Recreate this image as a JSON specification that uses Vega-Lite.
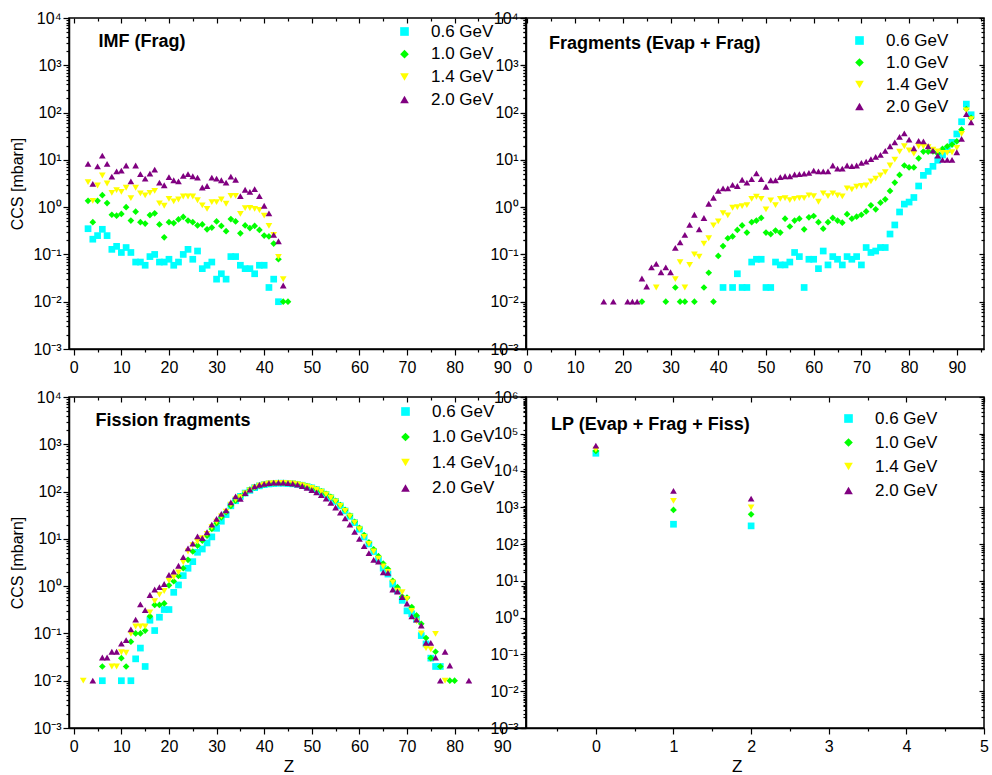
{
"$schema": "https://vega.github.io/schema/vega-lite/v6.json",
"background": "white",
"padding": {"left": 9, "top": 9, "right": 0, "bottom": 0},
"datasets": {
"imf": [
{"E":"0.6 GeV","Z":3,"CCS":0.35},{"E":"0.6 GeV","Z":4,"CCS":0.21},{"E":"0.6 GeV","Z":5,"CCS":0.25},{"E":"0.6 GeV","Z":6,"CCS":0.34},{"E":"0.6 GeV","Z":7,"CCS":0.25},{"E":"0.6 GeV","Z":8,"CCS":0.128},{"E":"0.6 GeV","Z":9,"CCS":0.148},{"E":"0.6 GeV","Z":10,"CCS":0.11},{"E":"0.6 GeV","Z":11,"CCS":0.14},{"E":"0.6 GeV","Z":12,"CCS":0.11},{"E":"0.6 GeV","Z":13,"CCS":0.069},{"E":"0.6 GeV","Z":14,"CCS":0.069},{"E":"0.6 GeV","Z":15,"CCS":0.059},{"E":"0.6 GeV","Z":16,"CCS":0.09},{"E":"0.6 GeV","Z":17,"CCS":0.1},{"E":"0.6 GeV","Z":18,"CCS":0.069},{"E":"0.6 GeV","Z":19,"CCS":0.069},{"E":"0.6 GeV","Z":20,"CCS":0.079},{"E":"0.6 GeV","Z":21,"CCS":0.059},{"E":"0.6 GeV","Z":22,"CCS":0.069},{"E":"0.6 GeV","Z":23,"CCS":0.1},{"E":"0.6 GeV","Z":24,"CCS":0.128},{"E":"0.6 GeV","Z":25,"CCS":0.079},{"E":"0.6 GeV","Z":26,"CCS":0.118},{"E":"0.6 GeV","Z":27,"CCS":0.05},{"E":"0.6 GeV","Z":28,"CCS":0.059},{"E":"0.6 GeV","Z":29,"CCS":0.069},{"E":"0.6 GeV","Z":30,"CCS":0.03},{"E":"0.6 GeV","Z":31,"CCS":0.039},{"E":"0.6 GeV","Z":32,"CCS":0.03},{"E":"0.6 GeV","Z":33,"CCS":0.09},{"E":"0.6 GeV","Z":34,"CCS":0.09},{"E":"0.6 GeV","Z":35,"CCS":0.059},{"E":"0.6 GeV","Z":36,"CCS":0.05},{"E":"0.6 GeV","Z":37,"CCS":0.05},{"E":"0.6 GeV","Z":38,"CCS":0.039},{"E":"0.6 GeV","Z":39,"CCS":0.059},{"E":"0.6 GeV","Z":40,"CCS":0.059},{"E":"0.6 GeV","Z":41,"CCS":0.02},{"E":"0.6 GeV","Z":42,"CCS":0.03},{"E":"0.6 GeV","Z":43,"CCS":0.01},
{"E":"1.0 GeV","Z":3,"CCS":1.36},{"E":"1.0 GeV","Z":4,"CCS":0.48},{"E":"1.0 GeV","Z":5,"CCS":1.36},{"E":"1.0 GeV","Z":6,"CCS":1.79},{"E":"1.0 GeV","Z":7,"CCS":1.22},{"E":"1.0 GeV","Z":8,"CCS":0.69},{"E":"1.0 GeV","Z":9,"CCS":0.66},{"E":"1.0 GeV","Z":10,"CCS":0.72},{"E":"1.0 GeV","Z":11,"CCS":1.0},{"E":"1.0 GeV","Z":12,"CCS":0.52},{"E":"1.0 GeV","Z":13,"CCS":0.8},{"E":"1.0 GeV","Z":14,"CCS":0.48},{"E":"1.0 GeV","Z":15,"CCS":0.45},{"E":"1.0 GeV","Z":16,"CCS":0.68},{"E":"1.0 GeV","Z":17,"CCS":0.74},{"E":"1.0 GeV","Z":18,"CCS":0.43},{"E":"1.0 GeV","Z":19,"CCS":0.23},{"E":"1.0 GeV","Z":20,"CCS":0.48},{"E":"1.0 GeV","Z":21,"CCS":0.46},{"E":"1.0 GeV","Z":22,"CCS":0.55},{"E":"1.0 GeV","Z":23,"CCS":0.62},{"E":"1.0 GeV","Z":24,"CCS":0.52},{"E":"1.0 GeV","Z":25,"CCS":0.48},{"E":"1.0 GeV","Z":26,"CCS":0.41},{"E":"1.0 GeV","Z":27,"CCS":0.43},{"E":"1.0 GeV","Z":28,"CCS":0.34},{"E":"1.0 GeV","Z":29,"CCS":0.37},{"E":"1.0 GeV","Z":30,"CCS":0.5},{"E":"1.0 GeV","Z":31,"CCS":0.4},{"E":"1.0 GeV","Z":32,"CCS":0.31},{"E":"1.0 GeV","Z":33,"CCS":0.56},{"E":"1.0 GeV","Z":34,"CCS":0.5},{"E":"1.0 GeV","Z":35,"CCS":0.28},{"E":"1.0 GeV","Z":36,"CCS":0.41},{"E":"1.0 GeV","Z":37,"CCS":0.36},{"E":"1.0 GeV","Z":38,"CCS":0.4},{"E":"1.0 GeV","Z":39,"CCS":0.33},{"E":"1.0 GeV","Z":40,"CCS":0.25},{"E":"1.0 GeV","Z":41,"CCS":0.24},{"E":"1.0 GeV","Z":42,"CCS":0.17},{"E":"1.0 GeV","Z":43,"CCS":0.079},{"E":"1.0 GeV","Z":44,"CCS":0.01},{"E":"1.0 GeV","Z":45,"CCS":0.01},
{"E":"1.4 GeV","Z":3,"CCS":3.37},{"E":"1.4 GeV","Z":4,"CCS":1.36},{"E":"1.4 GeV","Z":5,"CCS":2.87},{"E":"1.4 GeV","Z":6,"CCS":4.67},{"E":"1.4 GeV","Z":7,"CCS":3.16},{"E":"1.4 GeV","Z":8,"CCS":2.0},{"E":"1.4 GeV","Z":9,"CCS":2.28},{"E":"1.4 GeV","Z":10,"CCS":2.1},{"E":"1.4 GeV","Z":11,"CCS":2.57},{"E":"1.4 GeV","Z":12,"CCS":1.55},{"E":"1.4 GeV","Z":13,"CCS":2.57},{"E":"1.4 GeV","Z":14,"CCS":1.95},{"E":"1.4 GeV","Z":15,"CCS":1.77},{"E":"1.4 GeV","Z":16,"CCS":2.0},{"E":"1.4 GeV","Z":17,"CCS":2.2},{"E":"1.4 GeV","Z":18,"CCS":1.2},{"E":"1.4 GeV","Z":19,"CCS":1.07},{"E":"1.4 GeV","Z":20,"CCS":1.5},{"E":"1.4 GeV","Z":21,"CCS":1.32},{"E":"1.4 GeV","Z":22,"CCS":1.45},{"E":"1.4 GeV","Z":23,"CCS":1.68},{"E":"1.4 GeV","Z":24,"CCS":1.68},{"E":"1.4 GeV","Z":25,"CCS":1.68},{"E":"1.4 GeV","Z":26,"CCS":1.4},{"E":"1.4 GeV","Z":27,"CCS":1.09},{"E":"1.4 GeV","Z":28,"CCS":0.92},{"E":"1.4 GeV","Z":29,"CCS":1.28},{"E":"1.4 GeV","Z":30,"CCS":1.28},{"E":"1.4 GeV","Z":31,"CCS":1.45},{"E":"1.4 GeV","Z":32,"CCS":1.18},{"E":"1.4 GeV","Z":33,"CCS":1.73},{"E":"1.4 GeV","Z":34,"CCS":1.73},{"E":"1.4 GeV","Z":35,"CCS":0.72},{"E":"1.4 GeV","Z":36,"CCS":0.95},{"E":"1.4 GeV","Z":37,"CCS":0.96},{"E":"1.4 GeV","Z":38,"CCS":0.92},{"E":"1.4 GeV","Z":39,"CCS":0.87},{"E":"1.4 GeV","Z":40,"CCS":0.66},{"E":"1.4 GeV","Z":41,"CCS":0.4},{"E":"1.4 GeV","Z":42,"CCS":0.26},{"E":"1.4 GeV","Z":43,"CCS":0.089},{"E":"1.4 GeV","Z":44,"CCS":0.03},
{"E":"2.0 GeV","Z":3,"CCS":8.2},{"E":"2.0 GeV","Z":4,"CCS":3.1},{"E":"2.0 GeV","Z":5,"CCS":7.3},{"E":"2.0 GeV","Z":6,"CCS":12.3},{"E":"2.0 GeV","Z":7,"CCS":8.2},{"E":"2.0 GeV","Z":8,"CCS":4.4},{"E":"2.0 GeV","Z":9,"CCS":5.7},{"E":"2.0 GeV","Z":10,"CCS":5.9},{"E":"2.0 GeV","Z":11,"CCS":7.6},{"E":"2.0 GeV","Z":12,"CCS":3.5},{"E":"2.0 GeV","Z":13,"CCS":7.6},{"E":"2.0 GeV","Z":14,"CCS":5.0},{"E":"2.0 GeV","Z":15,"CCS":4.0},{"E":"2.0 GeV","Z":16,"CCS":5.1},{"E":"2.0 GeV","Z":17,"CCS":6.2},{"E":"2.0 GeV","Z":18,"CCS":3.3},{"E":"2.0 GeV","Z":19,"CCS":2.9},{"E":"2.0 GeV","Z":20,"CCS":4.3},{"E":"2.0 GeV","Z":21,"CCS":3.7},{"E":"2.0 GeV","Z":22,"CCS":3.5},{"E":"2.0 GeV","Z":23,"CCS":4.6},{"E":"2.0 GeV","Z":24,"CCS":5.0},{"E":"2.0 GeV","Z":25,"CCS":4.5},{"E":"2.0 GeV","Z":26,"CCS":4.2},{"E":"2.0 GeV","Z":27,"CCS":2.6},{"E":"2.0 GeV","Z":28,"CCS":2.8},{"E":"2.0 GeV","Z":29,"CCS":4.2},{"E":"2.0 GeV","Z":30,"CCS":4.0},{"E":"2.0 GeV","Z":31,"CCS":3.7},{"E":"2.0 GeV","Z":32,"CCS":3.3},{"E":"2.0 GeV","Z":33,"CCS":4.4},{"E":"2.0 GeV","Z":34,"CCS":3.8},{"E":"2.0 GeV","Z":35,"CCS":1.71},{"E":"2.0 GeV","Z":36,"CCS":2.33},{"E":"2.0 GeV","Z":37,"CCS":2.1},{"E":"2.0 GeV","Z":38,"CCS":2.4},{"E":"2.0 GeV","Z":39,"CCS":1.71},{"E":"2.0 GeV","Z":40,"CCS":1.07},{"E":"2.0 GeV","Z":41,"CCS":0.74},{"E":"2.0 GeV","Z":42,"CCS":0.26},{"E":"2.0 GeV","Z":43,"CCS":0.19},{"E":"2.0 GeV","Z":44,"CCS":0.022}
],
"frag": [
{"E":"0.6 GeV","Z":41,"CCS":0.02},{"E":"0.6 GeV","Z":43,"CCS":0.02},{"E":"0.6 GeV","Z":44,"CCS":0.039},{"E":"0.6 GeV","Z":45,"CCS":0.02},{"E":"0.6 GeV","Z":46,"CCS":0.02},{"E":"0.6 GeV","Z":47,"CCS":0.069},{"E":"0.6 GeV","Z":48,"CCS":0.079},{"E":"0.6 GeV","Z":49,"CCS":0.079},{"E":"0.6 GeV","Z":50,"CCS":0.02},{"E":"0.6 GeV","Z":51,"CCS":0.02},{"E":"0.6 GeV","Z":52,"CCS":0.069},{"E":"0.6 GeV","Z":53,"CCS":0.06},{"E":"0.6 GeV","Z":54,"CCS":0.06},{"E":"0.6 GeV","Z":55,"CCS":0.069},{"E":"0.6 GeV","Z":56,"CCS":0.11},{"E":"0.6 GeV","Z":57,"CCS":0.09},{"E":"0.6 GeV","Z":58,"CCS":0.02},{"E":"0.6 GeV","Z":59,"CCS":0.079},{"E":"0.6 GeV","Z":60,"CCS":0.079},{"E":"0.6 GeV","Z":61,"CCS":0.05},{"E":"0.6 GeV","Z":62,"CCS":0.118},{"E":"0.6 GeV","Z":63,"CCS":0.06},{"E":"0.6 GeV","Z":64,"CCS":0.09},{"E":"0.6 GeV","Z":65,"CCS":0.079},{"E":"0.6 GeV","Z":66,"CCS":0.06},{"E":"0.6 GeV","Z":67,"CCS":0.09},{"E":"0.6 GeV","Z":68,"CCS":0.079},{"E":"0.6 GeV","Z":69,"CCS":0.09},{"E":"0.6 GeV","Z":70,"CCS":0.06},{"E":"0.6 GeV","Z":71,"CCS":0.14},{"E":"0.6 GeV","Z":72,"CCS":0.11},{"E":"0.6 GeV","Z":73,"CCS":0.118},{"E":"0.6 GeV","Z":74,"CCS":0.14},{"E":"0.6 GeV","Z":75,"CCS":0.14},{"E":"0.6 GeV","Z":76,"CCS":0.27},{"E":"0.6 GeV","Z":77,"CCS":0.42},{"E":"0.6 GeV","Z":78,"CCS":0.79},{"E":"0.6 GeV","Z":79,"CCS":1.16},{"E":"0.6 GeV","Z":80,"CCS":1.28},{"E":"0.6 GeV","Z":81,"CCS":1.6},{"E":"0.6 GeV","Z":82,"CCS":2.8},{"E":"0.6 GeV","Z":83,"CCS":4.7},{"E":"0.6 GeV","Z":84,"CCS":5.7},{"E":"0.6 GeV","Z":85,"CCS":7.3},{"E":"0.6 GeV","Z":86,"CCS":9.8},{"E":"0.6 GeV","Z":87,"CCS":12.7},{"E":"0.6 GeV","Z":88,"CCS":16.5},{"E":"0.6 GeV","Z":89,"CCS":23.5},{"E":"0.6 GeV","Z":90,"CCS":35.3},{"E":"0.6 GeV","Z":91,"CCS":64},{"E":"0.6 GeV","Z":92,"CCS":151},{"E":"0.6 GeV","Z":93,"CCS":90},
{"E":"1.0 GeV","Z":24,"CCS":0.01},{"E":"1.0 GeV","Z":29,"CCS":0.01},{"E":"1.0 GeV","Z":31,"CCS":0.02},{"E":"1.0 GeV","Z":32,"CCS":0.01},{"E":"1.0 GeV","Z":33,"CCS":0.01},{"E":"1.0 GeV","Z":35,"CCS":0.01},{"E":"1.0 GeV","Z":37,"CCS":0.02},{"E":"1.0 GeV","Z":38,"CCS":0.041},{"E":"1.0 GeV","Z":39,"CCS":0.01},{"E":"1.0 GeV","Z":40,"CCS":0.093},{"E":"1.0 GeV","Z":41,"CCS":0.15},{"E":"1.0 GeV","Z":42,"CCS":0.22},{"E":"1.0 GeV","Z":43,"CCS":0.24},{"E":"1.0 GeV","Z":44,"CCS":0.33},{"E":"1.0 GeV","Z":45,"CCS":0.41},{"E":"1.0 GeV","Z":46,"CCS":0.29},{"E":"1.0 GeV","Z":47,"CCS":0.48},{"E":"1.0 GeV","Z":48,"CCS":0.52},{"E":"1.0 GeV","Z":49,"CCS":0.59},{"E":"1.0 GeV","Z":50,"CCS":0.29},{"E":"1.0 GeV","Z":51,"CCS":0.27},{"E":"1.0 GeV","Z":52,"CCS":0.32},{"E":"1.0 GeV","Z":53,"CCS":0.29},{"E":"1.0 GeV","Z":54,"CCS":0.57},{"E":"1.0 GeV","Z":55,"CCS":0.39},{"E":"1.0 GeV","Z":56,"CCS":0.52},{"E":"1.0 GeV","Z":57,"CCS":0.57},{"E":"1.0 GeV","Z":58,"CCS":0.34},{"E":"1.0 GeV","Z":59,"CCS":0.61},{"E":"1.0 GeV","Z":60,"CCS":0.65},{"E":"1.0 GeV","Z":61,"CCS":0.48},{"E":"1.0 GeV","Z":62,"CCS":0.35},{"E":"1.0 GeV","Z":63,"CCS":0.48},{"E":"1.0 GeV","Z":64,"CCS":0.59},{"E":"1.0 GeV","Z":65,"CCS":0.52},{"E":"1.0 GeV","Z":66,"CCS":0.47},{"E":"1.0 GeV","Z":67,"CCS":0.71},{"E":"1.0 GeV","Z":68,"CCS":0.57},{"E":"1.0 GeV","Z":69,"CCS":0.63},{"E":"1.0 GeV","Z":70,"CCS":0.69},{"E":"1.0 GeV","Z":71,"CCS":0.81},{"E":"1.0 GeV","Z":72,"CCS":1.09},{"E":"1.0 GeV","Z":73,"CCS":0.9},{"E":"1.0 GeV","Z":74,"CCS":1.24},{"E":"1.0 GeV","Z":75,"CCS":1.46},{"E":"1.0 GeV","Z":76,"CCS":2.2},{"E":"1.0 GeV","Z":77,"CCS":3.3},{"E":"1.0 GeV","Z":78,"CCS":4.8},{"E":"1.0 GeV","Z":79,"CCS":7.6},{"E":"1.0 GeV","Z":80,"CCS":6.9},{"E":"1.0 GeV","Z":81,"CCS":6.9},{"E":"1.0 GeV","Z":82,"CCS":10.8},{"E":"1.0 GeV","Z":83,"CCS":15.0},{"E":"1.0 GeV","Z":84,"CCS":15.0},{"E":"1.0 GeV","Z":85,"CCS":15.1},{"E":"1.0 GeV","Z":86,"CCS":13.6},{"E":"1.0 GeV","Z":87,"CCS":17.0},{"E":"1.0 GeV","Z":88,"CCS":19.4},{"E":"1.0 GeV","Z":89,"CCS":21},{"E":"1.0 GeV","Z":90,"CCS":24.6},{"E":"1.0 GeV","Z":91,"CCS":43.7},{"E":"1.0 GeV","Z":92,"CCS":119},{"E":"1.0 GeV","Z":93,"CCS":77},
{"E":"1.4 GeV","Z":27,"CCS":0.02},{"E":"1.4 GeV","Z":31,"CCS":0.03},{"E":"1.4 GeV","Z":32,"CCS":0.069},{"E":"1.4 GeV","Z":33,"CCS":0.02},{"E":"1.4 GeV","Z":34,"CCS":0.06},{"E":"1.4 GeV","Z":35,"CCS":0.1},{"E":"1.4 GeV","Z":36,"CCS":0.09},{"E":"1.4 GeV","Z":37,"CCS":0.17},{"E":"1.4 GeV","Z":38,"CCS":0.22},{"E":"1.4 GeV","Z":39,"CCS":0.41},{"E":"1.4 GeV","Z":40,"CCS":0.5},{"E":"1.4 GeV","Z":41,"CCS":0.75},{"E":"1.4 GeV","Z":42,"CCS":0.67},{"E":"1.4 GeV","Z":43,"CCS":0.97},{"E":"1.4 GeV","Z":44,"CCS":1.0},{"E":"1.4 GeV","Z":45,"CCS":1.05},{"E":"1.4 GeV","Z":46,"CCS":1.1},{"E":"1.4 GeV","Z":47,"CCS":1.5},{"E":"1.4 GeV","Z":48,"CCS":1.66},{"E":"1.4 GeV","Z":49,"CCS":1.5},{"E":"1.4 GeV","Z":50,"CCS":0.9},{"E":"1.4 GeV","Z":51,"CCS":1.39},{"E":"1.4 GeV","Z":52,"CCS":1.1},{"E":"1.4 GeV","Z":53,"CCS":1.5},{"E":"1.4 GeV","Z":54,"CCS":1.55},{"E":"1.4 GeV","Z":55,"CCS":1.41},{"E":"1.4 GeV","Z":56,"CCS":1.5},{"E":"1.4 GeV","Z":57,"CCS":1.55},{"E":"1.4 GeV","Z":58,"CCS":1.55},{"E":"1.4 GeV","Z":59,"CCS":1.77},{"E":"1.4 GeV","Z":60,"CCS":1.71},{"E":"1.4 GeV","Z":61,"CCS":1.3},{"E":"1.4 GeV","Z":62,"CCS":1.95},{"E":"1.4 GeV","Z":63,"CCS":1.71},{"E":"1.4 GeV","Z":64,"CCS":1.95},{"E":"1.4 GeV","Z":65,"CCS":1.77},{"E":"1.4 GeV","Z":66,"CCS":1.69},{"E":"1.4 GeV","Z":67,"CCS":2.5},{"E":"1.4 GeV","Z":68,"CCS":2.37},{"E":"1.4 GeV","Z":69,"CCS":2.7},{"E":"1.4 GeV","Z":70,"CCS":2.8},{"E":"1.4 GeV","Z":71,"CCS":2.87},{"E":"1.4 GeV","Z":72,"CCS":3.5},{"E":"1.4 GeV","Z":73,"CCS":4.0},{"E":"1.4 GeV","Z":74,"CCS":4.7},{"E":"1.4 GeV","Z":75,"CCS":5.5},{"E":"1.4 GeV","Z":76,"CCS":7.6},{"E":"1.4 GeV","Z":77,"CCS":10.1},{"E":"1.4 GeV","Z":78,"CCS":15.0},{"E":"1.4 GeV","Z":79,"CCS":19.4},{"E":"1.4 GeV","Z":80,"CCS":15.9},{"E":"1.4 GeV","Z":81,"CCS":13.6},{"E":"1.4 GeV","Z":82,"CCS":19.4},{"E":"1.4 GeV","Z":83,"CCS":19.4},{"E":"1.4 GeV","Z":84,"CCS":18.6},{"E":"1.4 GeV","Z":85,"CCS":16.5},{"E":"1.4 GeV","Z":86,"CCS":15.1},{"E":"1.4 GeV","Z":87,"CCS":14.0},{"E":"1.4 GeV","Z":88,"CCS":14.0},{"E":"1.4 GeV","Z":89,"CCS":14.5},{"E":"1.4 GeV","Z":90,"CCS":17.9},{"E":"1.4 GeV","Z":91,"CCS":35.3},{"E":"1.4 GeV","Z":92,"CCS":111},{"E":"1.4 GeV","Z":93,"CCS":73},
{"E":"2.0 GeV","Z":16,"CCS":0.01},{"E":"2.0 GeV","Z":18,"CCS":0.01},{"E":"2.0 GeV","Z":21,"CCS":0.01},{"E":"2.0 GeV","Z":22,"CCS":0.01},{"E":"2.0 GeV","Z":23,"CCS":0.01},{"E":"2.0 GeV","Z":24,"CCS":0.031},{"E":"2.0 GeV","Z":25,"CCS":0.021},{"E":"2.0 GeV","Z":26,"CCS":0.053},{"E":"2.0 GeV","Z":27,"CCS":0.063},{"E":"2.0 GeV","Z":28,"CCS":0.042},{"E":"2.0 GeV","Z":29,"CCS":0.053},{"E":"2.0 GeV","Z":30,"CCS":0.042},{"E":"2.0 GeV","Z":31,"CCS":0.137},{"E":"2.0 GeV","Z":32,"CCS":0.18},{"E":"2.0 GeV","Z":33,"CCS":0.26},{"E":"2.0 GeV","Z":34,"CCS":0.42},{"E":"2.0 GeV","Z":35,"CCS":0.69},{"E":"2.0 GeV","Z":36,"CCS":0.34},{"E":"2.0 GeV","Z":37,"CCS":0.59},{"E":"2.0 GeV","Z":38,"CCS":1.18},{"E":"2.0 GeV","Z":39,"CCS":1.58},{"E":"2.0 GeV","Z":40,"CCS":2.2},{"E":"2.0 GeV","Z":41,"CCS":2.5},{"E":"2.0 GeV","Z":42,"CCS":2.5},{"E":"2.0 GeV","Z":43,"CCS":2.97},{"E":"2.0 GeV","Z":44,"CCS":2.8},{"E":"2.0 GeV","Z":45,"CCS":3.8},{"E":"2.0 GeV","Z":46,"CCS":3.3},{"E":"2.0 GeV","Z":47,"CCS":3.9},{"E":"2.0 GeV","Z":48,"CCS":5.2},{"E":"2.0 GeV","Z":49,"CCS":3.9},{"E":"2.0 GeV","Z":50,"CCS":2.7},{"E":"2.0 GeV","Z":51,"CCS":3.7},{"E":"2.0 GeV","Z":52,"CCS":3.7},{"E":"2.0 GeV","Z":53,"CCS":4.3},{"E":"2.0 GeV","Z":54,"CCS":4.5},{"E":"2.0 GeV","Z":55,"CCS":4.5},{"E":"2.0 GeV","Z":56,"CCS":4.9},{"E":"2.0 GeV","Z":57,"CCS":5.0},{"E":"2.0 GeV","Z":58,"CCS":5.1},{"E":"2.0 GeV","Z":59,"CCS":5.3},{"E":"2.0 GeV","Z":60,"CCS":5.9},{"E":"2.0 GeV","Z":61,"CCS":5.7},{"E":"2.0 GeV","Z":62,"CCS":5.7},{"E":"2.0 GeV","Z":63,"CCS":5.7},{"E":"2.0 GeV","Z":64,"CCS":7.6},{"E":"2.0 GeV","Z":65,"CCS":6.5},{"E":"2.0 GeV","Z":66,"CCS":6.5},{"E":"2.0 GeV","Z":67,"CCS":7.6},{"E":"2.0 GeV","Z":68,"CCS":7.4},{"E":"2.0 GeV","Z":69,"CCS":7.6},{"E":"2.0 GeV","Z":70,"CCS":8.6},{"E":"2.0 GeV","Z":71,"CCS":9.2},{"E":"2.0 GeV","Z":72,"CCS":10.4},{"E":"2.0 GeV","Z":73,"CCS":11.6},{"E":"2.0 GeV","Z":74,"CCS":12.7},{"E":"2.0 GeV","Z":75,"CCS":15.5},{"E":"2.0 GeV","Z":76,"CCS":19.4},{"E":"2.0 GeV","Z":77,"CCS":23.5},{"E":"2.0 GeV","Z":78,"CCS":30.5},{"E":"2.0 GeV","Z":79,"CCS":36.3},{"E":"2.0 GeV","Z":80,"CCS":26.8},{"E":"2.0 GeV","Z":81,"CCS":17.6},{"E":"2.0 GeV","Z":82,"CCS":25.1},{"E":"2.0 GeV","Z":83,"CCS":24.7},{"E":"2.0 GeV","Z":84,"CCS":19.4},{"E":"2.0 GeV","Z":85,"CCS":15.7},{"E":"2.0 GeV","Z":86,"CCS":12.3},{"E":"2.0 GeV","Z":87,"CCS":10},{"E":"2.0 GeV","Z":88,"CCS":10},{"E":"2.0 GeV","Z":89,"CCS":10},{"E":"2.0 GeV","Z":90,"CCS":14.5},{"E":"2.0 GeV","Z":91,"CCS":27.7},{"E":"2.0 GeV","Z":92,"CCS":93},{"E":"2.0 GeV","Z":93,"CCS":62}
],
"fiss": [
{"E":"0.6 GeV","Z":6,"CCS":0.01},{"E":"0.6 GeV","Z":10,"CCS":0.01},{"E":"0.6 GeV","Z":12,"CCS":0.01},{"E":"0.6 GeV","Z":13,"CCS":0.029},{"E":"0.6 GeV","Z":14,"CCS":0.049},{"E":"0.6 GeV","Z":15,"CCS":0.02},{"E":"0.6 GeV","Z":16,"CCS":0.19},{"E":"0.6 GeV","Z":17,"CCS":0.115},{"E":"0.6 GeV","Z":18,"CCS":0.22},{"E":"0.6 GeV","Z":19,"CCS":0.32},{"E":"0.6 GeV","Z":20,"CCS":0.32},{"E":"0.6 GeV","Z":21,"CCS":0.74},{"E":"0.6 GeV","Z":22,"CCS":1.06},{"E":"0.6 GeV","Z":23,"CCS":1.67},{"E":"0.6 GeV","Z":24,"CCS":2.39},{"E":"0.6 GeV","Z":25,"CCS":3.3},{"E":"0.6 GeV","Z":26,"CCS":5.2},{"E":"0.6 GeV","Z":27,"CCS":6.1},{"E":"0.6 GeV","Z":28,"CCS":8.2},{"E":"0.6 GeV","Z":29,"CCS":11},{"E":"0.6 GeV","Z":30,"CCS":16.7},{"E":"0.6 GeV","Z":31,"CCS":23.6},{"E":"0.6 GeV","Z":32,"CCS":32.6},{"E":"0.6 GeV","Z":33,"CCS":50},{"E":"0.6 GeV","Z":34,"CCS":64},{"E":"0.6 GeV","Z":35,"CCS":79},{"E":"0.6 GeV","Z":36,"CCS":93},{"E":"0.6 GeV","Z":37,"CCS":106},{"E":"0.6 GeV","Z":38,"CCS":121},{"E":"0.6 GeV","Z":39,"CCS":132},{"E":"0.6 GeV","Z":40,"CCS":140},{"E":"0.6 GeV","Z":41,"CCS":145},{"E":"0.6 GeV","Z":42,"CCS":148},{"E":"0.6 GeV","Z":43,"CCS":150},{"E":"0.6 GeV","Z":44,"CCS":150},{"E":"0.6 GeV","Z":45,"CCS":148},{"E":"0.6 GeV","Z":46,"CCS":146},{"E":"0.6 GeV","Z":47,"CCS":142},{"E":"0.6 GeV","Z":48,"CCS":136},{"E":"0.6 GeV","Z":49,"CCS":128},{"E":"0.6 GeV","Z":50,"CCS":120},{"E":"0.6 GeV","Z":51,"CCS":110},{"E":"0.6 GeV","Z":52,"CCS":99},{"E":"0.6 GeV","Z":53,"CCS":87},{"E":"0.6 GeV","Z":54,"CCS":74},{"E":"0.6 GeV","Z":55,"CCS":62},{"E":"0.6 GeV","Z":56,"CCS":50},{"E":"0.6 GeV","Z":57,"CCS":39},{"E":"0.6 GeV","Z":58,"CCS":30},{"E":"0.6 GeV","Z":59,"CCS":22},{"E":"0.6 GeV","Z":60,"CCS":16},{"E":"0.6 GeV","Z":61,"CCS":11},{"E":"0.6 GeV","Z":62,"CCS":7.8},{"E":"0.6 GeV","Z":63,"CCS":5.4},{"E":"0.6 GeV","Z":64,"CCS":3.6},{"E":"0.6 GeV","Z":65,"CCS":2.4},{"E":"0.6 GeV","Z":66,"CCS":1.8},{"E":"0.6 GeV","Z":67,"CCS":1.1},{"E":"0.6 GeV","Z":68,"CCS":0.8},{"E":"0.6 GeV","Z":69,"CCS":0.5},{"E":"0.6 GeV","Z":70,"CCS":0.3},{"E":"0.6 GeV","Z":71,"CCS":0.26},{"E":"0.6 GeV","Z":72,"CCS":0.2},{"E":"0.6 GeV","Z":73,"CCS":0.09},{"E":"0.6 GeV","Z":74,"CCS":0.06},{"E":"0.6 GeV","Z":75,"CCS":0.03},{"E":"0.6 GeV","Z":76,"CCS":0.02},{"E":"0.6 GeV","Z":77,"CCS":0.02},
{"E":"1.0 GeV","Z":6,"CCS":0.02},{"E":"1.0 GeV","Z":10,"CCS":0.03},{"E":"1.0 GeV","Z":11,"CCS":0.02},{"E":"1.0 GeV","Z":12,"CCS":0.067},{"E":"1.0 GeV","Z":13,"CCS":0.1},{"E":"1.0 GeV","Z":14,"CCS":0.1},{"E":"1.0 GeV","Z":15,"CCS":0.115},{"E":"1.0 GeV","Z":16,"CCS":0.23},{"E":"1.0 GeV","Z":17,"CCS":0.4},{"E":"1.0 GeV","Z":18,"CCS":0.4},{"E":"1.0 GeV","Z":19,"CCS":0.43},{"E":"1.0 GeV","Z":20,"CCS":1.04},{"E":"1.0 GeV","Z":21,"CCS":1.27},{"E":"1.0 GeV","Z":22,"CCS":1.64},{"E":"1.0 GeV","Z":23,"CCS":2.39},{"E":"1.0 GeV","Z":24,"CCS":3.6},{"E":"1.0 GeV","Z":25,"CCS":5.4},{"E":"1.0 GeV","Z":26,"CCS":7.2},{"E":"1.0 GeV","Z":27,"CCS":9.2},{"E":"1.0 GeV","Z":28,"CCS":11.7},{"E":"1.0 GeV","Z":29,"CCS":16.2},{"E":"1.0 GeV","Z":30,"CCS":21.4},{"E":"1.0 GeV","Z":31,"CCS":28.6},{"E":"1.0 GeV","Z":32,"CCS":36.5},{"E":"1.0 GeV","Z":33,"CCS":50},{"E":"1.0 GeV","Z":34,"CCS":64},{"E":"1.0 GeV","Z":35,"CCS":79},{"E":"1.0 GeV","Z":36,"CCS":93},{"E":"1.0 GeV","Z":37,"CCS":110},{"E":"1.0 GeV","Z":38,"CCS":123},{"E":"1.0 GeV","Z":39,"CCS":133},{"E":"1.0 GeV","Z":40,"CCS":141},{"E":"1.0 GeV","Z":41,"CCS":147},{"E":"1.0 GeV","Z":42,"CCS":150},{"E":"1.0 GeV","Z":43,"CCS":152},{"E":"1.0 GeV","Z":44,"CCS":152},{"E":"1.0 GeV","Z":45,"CCS":150},{"E":"1.0 GeV","Z":46,"CCS":147},{"E":"1.0 GeV","Z":47,"CCS":143},{"E":"1.0 GeV","Z":48,"CCS":137},{"E":"1.0 GeV","Z":49,"CCS":130},{"E":"1.0 GeV","Z":50,"CCS":122},{"E":"1.0 GeV","Z":51,"CCS":112},{"E":"1.0 GeV","Z":52,"CCS":101},{"E":"1.0 GeV","Z":53,"CCS":89},{"E":"1.0 GeV","Z":54,"CCS":77},{"E":"1.0 GeV","Z":55,"CCS":64},{"E":"1.0 GeV","Z":56,"CCS":52},{"E":"1.0 GeV","Z":57,"CCS":41},{"E":"1.0 GeV","Z":58,"CCS":31},{"E":"1.0 GeV","Z":59,"CCS":23},{"E":"1.0 GeV","Z":60,"CCS":17},{"E":"1.0 GeV","Z":61,"CCS":12},{"E":"1.0 GeV","Z":62,"CCS":8.4},{"E":"1.0 GeV","Z":63,"CCS":6},{"E":"1.0 GeV","Z":64,"CCS":4.3},{"E":"1.0 GeV","Z":65,"CCS":3.0},{"E":"1.0 GeV","Z":66,"CCS":2.3},{"E":"1.0 GeV","Z":67,"CCS":1.3},{"E":"1.0 GeV","Z":68,"CCS":0.95},{"E":"1.0 GeV","Z":69,"CCS":0.6},{"E":"1.0 GeV","Z":70,"CCS":0.57},{"E":"1.0 GeV","Z":71,"CCS":0.36},{"E":"1.0 GeV","Z":72,"CCS":0.24},{"E":"1.0 GeV","Z":73,"CCS":0.16},{"E":"1.0 GeV","Z":74,"CCS":0.08},{"E":"1.0 GeV","Z":75,"CCS":0.03},{"E":"1.0 GeV","Z":76,"CCS":0.041},{"E":"1.0 GeV","Z":77,"CCS":0.02},{"E":"1.0 GeV","Z":79,"CCS":0.01},{"E":"1.0 GeV","Z":80,"CCS":0.01},
{"E":"1.4 GeV","Z":2,"CCS":0.01},{"E":"1.4 GeV","Z":8,"CCS":0.02},{"E":"1.4 GeV","Z":9,"CCS":0.02},{"E":"1.4 GeV","Z":10,"CCS":0.04},{"E":"1.4 GeV","Z":11,"CCS":0.039},{"E":"1.4 GeV","Z":12,"CCS":0.098},{"E":"1.4 GeV","Z":13,"CCS":0.14},{"E":"1.4 GeV","Z":14,"CCS":0.14},{"E":"1.4 GeV","Z":15,"CCS":0.14},{"E":"1.4 GeV","Z":16,"CCS":0.28},{"E":"1.4 GeV","Z":17,"CCS":0.48},{"E":"1.4 GeV","Z":18,"CCS":0.66},{"E":"1.4 GeV","Z":19,"CCS":0.79},{"E":"1.4 GeV","Z":20,"CCS":1.31},{"E":"1.4 GeV","Z":21,"CCS":1.54},{"E":"1.4 GeV","Z":22,"CCS":1.96},{"E":"1.4 GeV","Z":23,"CCS":3.2},{"E":"1.4 GeV","Z":24,"CCS":5.4},{"E":"1.4 GeV","Z":25,"CCS":7.4},{"E":"1.4 GeV","Z":26,"CCS":8.7},{"E":"1.4 GeV","Z":27,"CCS":10.3},{"E":"1.4 GeV","Z":28,"CCS":12.7},{"E":"1.4 GeV","Z":29,"CCS":17.6},{"E":"1.4 GeV","Z":30,"CCS":23},{"E":"1.4 GeV","Z":31,"CCS":30},{"E":"1.4 GeV","Z":32,"CCS":37.7},{"E":"1.4 GeV","Z":33,"CCS":53},{"E":"1.4 GeV","Z":34,"CCS":68},{"E":"1.4 GeV","Z":35,"CCS":76},{"E":"1.4 GeV","Z":36,"CCS":91},{"E":"1.4 GeV","Z":37,"CCS":106},{"E":"1.4 GeV","Z":38,"CCS":121},{"E":"1.4 GeV","Z":39,"CCS":134},{"E":"1.4 GeV","Z":40,"CCS":142},{"E":"1.4 GeV","Z":41,"CCS":148},{"E":"1.4 GeV","Z":42,"CCS":151},{"E":"1.4 GeV","Z":43,"CCS":153},{"E":"1.4 GeV","Z":44,"CCS":153},{"E":"1.4 GeV","Z":45,"CCS":151},{"E":"1.4 GeV","Z":46,"CCS":148},{"E":"1.4 GeV","Z":47,"CCS":143},{"E":"1.4 GeV","Z":48,"CCS":137},{"E":"1.4 GeV","Z":49,"CCS":129},{"E":"1.4 GeV","Z":50,"CCS":120},{"E":"1.4 GeV","Z":51,"CCS":110},{"E":"1.4 GeV","Z":52,"CCS":99},{"E":"1.4 GeV","Z":53,"CCS":87},{"E":"1.4 GeV","Z":54,"CCS":74},{"E":"1.4 GeV","Z":55,"CCS":62},{"E":"1.4 GeV","Z":56,"CCS":50},{"E":"1.4 GeV","Z":57,"CCS":39},{"E":"1.4 GeV","Z":58,"CCS":30},{"E":"1.4 GeV","Z":59,"CCS":22},{"E":"1.4 GeV","Z":60,"CCS":16},{"E":"1.4 GeV","Z":61,"CCS":11},{"E":"1.4 GeV","Z":62,"CCS":7.8},{"E":"1.4 GeV","Z":63,"CCS":5.4},{"E":"1.4 GeV","Z":64,"CCS":3.8},{"E":"1.4 GeV","Z":65,"CCS":2.6},{"E":"1.4 GeV","Z":66,"CCS":2.0},{"E":"1.4 GeV","Z":67,"CCS":1.2},{"E":"1.4 GeV","Z":68,"CCS":0.8},{"E":"1.4 GeV","Z":69,"CCS":0.75},{"E":"1.4 GeV","Z":70,"CCS":0.54},{"E":"1.4 GeV","Z":71,"CCS":0.3},{"E":"1.4 GeV","Z":72,"CCS":0.18},{"E":"1.4 GeV","Z":73,"CCS":0.1},{"E":"1.4 GeV","Z":74,"CCS":0.049},{"E":"1.4 GeV","Z":75,"CCS":0.046},{"E":"1.4 GeV","Z":76,"CCS":0.098},{"E":"1.4 GeV","Z":78,"CCS":0.01},
{"E":"2.0 GeV","Z":4,"CCS":0.01},{"E":"2.0 GeV","Z":6,"CCS":0.031},{"E":"2.0 GeV","Z":7,"CCS":0.031},{"E":"2.0 GeV","Z":8,"CCS":0.041},{"E":"2.0 GeV","Z":9,"CCS":0.041},{"E":"2.0 GeV","Z":10,"CCS":0.061},{"E":"2.0 GeV","Z":11,"CCS":0.072},{"E":"2.0 GeV","Z":12,"CCS":0.122},{"E":"2.0 GeV","Z":13,"CCS":0.196},{"E":"2.0 GeV","Z":14,"CCS":0.41},{"E":"2.0 GeV","Z":15,"CCS":0.31},{"E":"2.0 GeV","Z":16,"CCS":0.65},{"E":"2.0 GeV","Z":17,"CCS":0.85},{"E":"2.0 GeV","Z":18,"CCS":0.95},{"E":"2.0 GeV","Z":19,"CCS":1.11},{"E":"2.0 GeV","Z":20,"CCS":1.73},{"E":"2.0 GeV","Z":21,"CCS":2.03},{"E":"2.0 GeV","Z":22,"CCS":2.7},{"E":"2.0 GeV","Z":23,"CCS":4.1},{"E":"2.0 GeV","Z":24,"CCS":6.3},{"E":"2.0 GeV","Z":25,"CCS":7.9},{"E":"2.0 GeV","Z":26,"CCS":11.3},{"E":"2.0 GeV","Z":27,"CCS":10.4},{"E":"2.0 GeV","Z":28,"CCS":13.8},{"E":"2.0 GeV","Z":29,"CCS":20},{"E":"2.0 GeV","Z":30,"CCS":26.4},{"E":"2.0 GeV","Z":31,"CCS":33.6},{"E":"2.0 GeV","Z":32,"CCS":40},{"E":"2.0 GeV","Z":33,"CCS":59},{"E":"2.0 GeV","Z":34,"CCS":79},{"E":"2.0 GeV","Z":35,"CCS":70},{"E":"2.0 GeV","Z":36,"CCS":93},{"E":"2.0 GeV","Z":37,"CCS":110},{"E":"2.0 GeV","Z":38,"CCS":129},{"E":"2.0 GeV","Z":39,"CCS":138},{"E":"2.0 GeV","Z":40,"CCS":146},{"E":"2.0 GeV","Z":41,"CCS":151},{"E":"2.0 GeV","Z":42,"CCS":154},{"E":"2.0 GeV","Z":43,"CCS":155},{"E":"2.0 GeV","Z":44,"CCS":154},{"E":"2.0 GeV","Z":45,"CCS":151},{"E":"2.0 GeV","Z":46,"CCS":147},{"E":"2.0 GeV","Z":47,"CCS":140},{"E":"2.0 GeV","Z":48,"CCS":131},{"E":"2.0 GeV","Z":49,"CCS":120},{"E":"2.0 GeV","Z":50,"CCS":108},{"E":"2.0 GeV","Z":51,"CCS":96},{"E":"2.0 GeV","Z":52,"CCS":84},{"E":"2.0 GeV","Z":53,"CCS":71},{"E":"2.0 GeV","Z":54,"CCS":58},{"E":"2.0 GeV","Z":55,"CCS":46},{"E":"2.0 GeV","Z":56,"CCS":36},{"E":"2.0 GeV","Z":57,"CCS":27},{"E":"2.0 GeV","Z":58,"CCS":20},{"E":"2.0 GeV","Z":59,"CCS":14},{"E":"2.0 GeV","Z":60,"CCS":10},{"E":"2.0 GeV","Z":61,"CCS":7},{"E":"2.0 GeV","Z":62,"CCS":5},{"E":"2.0 GeV","Z":63,"CCS":3.6},{"E":"2.0 GeV","Z":64,"CCS":3.3},{"E":"2.0 GeV","Z":65,"CCS":1.96},{"E":"2.0 GeV","Z":66,"CCS":1.9},{"E":"2.0 GeV","Z":67,"CCS":0.85},{"E":"2.0 GeV","Z":68,"CCS":0.77},{"E":"2.0 GeV","Z":69,"CCS":0.59},{"E":"2.0 GeV","Z":70,"CCS":0.43},{"E":"2.0 GeV","Z":71,"CCS":0.23},{"E":"2.0 GeV","Z":72,"CCS":0.196},{"E":"2.0 GeV","Z":73,"CCS":0.147},{"E":"2.0 GeV","Z":74,"CCS":0.063},{"E":"2.0 GeV","Z":75,"CCS":0.063},{"E":"2.0 GeV","Z":76,"CCS":0.031},{"E":"2.0 GeV","Z":77,"CCS":0.01},{"E":"2.0 GeV","Z":78,"CCS":0.041},{"E":"2.0 GeV","Z":79,"CCS":0.021},{"E":"2.0 GeV","Z":83,"CCS":0.01}
],
"lp": [
{"E":"0.6 GeV","Z":0,"CCS":29500},{"E":"0.6 GeV","Z":1,"CCS":347},{"E":"0.6 GeV","Z":2,"CCS":313},
{"E":"1.0 GeV","Z":0,"CCS":34100},{"E":"1.0 GeV","Z":1,"CCS":850},{"E":"1.0 GeV","Z":2,"CCS":645},
{"E":"1.4 GeV","Z":0,"CCS":37000},{"E":"1.4 GeV","Z":1,"CCS":1490},{"E":"1.4 GeV","Z":2,"CCS":1000},
{"E":"2.0 GeV","Z":0,"CCS":47500},{"E":"2.0 GeV","Z":1,"CCS":2790},{"E":"2.0 GeV","Z":2,"CCS":1730}
]
},
"config": {
"font": "Liberation Sans",
"view": {"stroke": "black", "strokeWidth": 1.5},
"axis": {"grid": false, "domainColor": "black", "domainWidth": 1.5, "tickColor": "black", "tickWidth": 1.2, "labelColor": "black", "labelFont": "Liberation Sans", "labelFontSize": 16, "labelOverlap": false, "labelFlush": false, "labelBound": false, "titleFont": "Liberation Sans", "titleFontWeight": "normal", "titleColor": "black"},
"legend": {"labelFont": "Liberation Sans", "labelFontSize": 17, "labelColor": "black", "symbolSize": 75, "symbolStrokeWidth": 0, "padding": 0, "labelOffset": 18},
"title": {"font": "Liberation Sans", "fontSize": 18, "fontWeight": "bold", "color": "black", "anchor": "start", "frame": "group", "offset": 0, "baseline": "alphabetic"},
"point": {"filled": true, "size": 45, "opacity": 1, "strokeWidth": 0}
},
"resolve": {"scale": {"color": "independent", "shape": "independent"}, "legend": {"color": "independent", "shape": "independent"}},
"columns": 2,
"spacing": {"row": 48, "column": 0},
"bounds": "flush",
"concat": [
{
"width": 457, "height": 331,
"data": {"name": "imf"},
"title": {"text": "IMF (Frag)", "dx": 29.5, "dy": 45},
"layer": [
{"mark": {"type": "point"},
"encoding": {
"x": {"field": "Z", "type": "quantitative", "scale": {"domain": [-1, 95], "nice": false, "zero": false}, "axis": {"title": null, "values": [0,5,10,15,20,25,30,35,40,45,50,55,60,65,70,75,80,85,90], "format": "d", "labelExpr": "datum.value % 10 == 0 ? datum.label : ''", "tickSize": {"condition": {"test": "datum.value % 10 == 0", "value": 6}, "value": 3}, "labelPadding": 4}},
"y": {"field": "CCS", "type": "quantitative", "scale": {"type": "log", "domain": [0.001, 10000], "nice": false}, "axis": {"title": "CCS [mbarn]", "titleFontSize": 16, "titlePadding": 7, "values": [0.001,0.002,0.003,0.004,0.005,0.006,0.007,0.008,0.009,0.01,0.02,0.03,0.04,0.05,0.06,0.07,0.08,0.09,0.1,0.2,0.3,0.4,0.5,0.6,0.7,0.8,0.9,1,2,3,4,5,6,7,8,9,10,20,30,40,50,60,70,80,90,100,200,300,400,500,600,700,800,900,1000,2000,3000,4000,5000,6000,7000,8000,9000,10000], "labelExpr": "abs(log(datum.value)/LN10 - round(log(datum.value)/LN10)) < 0.01 ? '10' + ['⁻³','⁻²','⁻¹','⁰','¹','²','³','⁴','⁵','⁶'][round(log(datum.value)/LN10) + 3] : ''", "tickSize": {"condition": {"test": "abs(log(datum.value)/LN10 - round(log(datum.value)/LN10)) < 0.01", "value": 6}, "value": 3}, "labelPadding": 2}},
"color": {"field": "E", "type": "nominal", "scale": {"domain": ["0.6 GeV","1.0 GeV","1.4 GeV","2.0 GeV"], "range": ["#00FFFF","#00FF00","#FFFF00","#800080"]}, "legend": {"title": null, "orient": "none", "legendX": 327, "legendY": 5, "rowPadding": 4.7}},
"shape": {"field": "E", "type": "nominal", "scale": {"domain": ["0.6 GeV","1.0 GeV","1.4 GeV","2.0 GeV"], "range": ["square","diamond","triangle-down","triangle-up"]}, "legend": {"title": null, "orient": "none", "legendX": 327, "legendY": 5, "rowPadding": 4.7}}
}},
{"mark": {"type": "point", "opacity": 0},
"encoding": {
"x": {"field": "Z", "type": "quantitative", "scale": {"domain": [-1, 95], "nice": false, "zero": false}, "axis": {"orient": "top", "title": null, "labels": false, "domain": false, "values": [0,5,10,15,20,25,30,35,40,45,50,55,60,65,70,75,80,85,90], "tickSize": {"condition": {"test": "datum.value % 10 == 0", "value": -5}, "value": -3}}},
"y": {"field": "CCS", "type": "quantitative", "scale": {"type": "log", "domain": [0.001, 10000], "nice": false}, "axis": {"orient": "right", "title": null, "labels": false, "domain": false, "values": [0.001,0.002,0.003,0.004,0.005,0.006,0.007,0.008,0.009,0.01,0.02,0.03,0.04,0.05,0.06,0.07,0.08,0.09,0.1,0.2,0.3,0.4,0.5,0.6,0.7,0.8,0.9,1,2,3,4,5,6,7,8,9,10,20,30,40,50,60,70,80,90,100,200,300,400,500,600,700,800,900,1000,2000,3000,4000,5000,6000,7000,8000,9000,10000], "tickSize": {"condition": {"test": "abs(log(datum.value)/LN10 - round(log(datum.value)/LN10)) < 0.01", "value": -5}, "value": -3}}}
}}
],
"resolve": {"axis": {"x": "independent", "y": "independent"}}
},
{
"width": 458, "height": 331,
"data": {"name": "frag"},
"title": {"text": "Fragments (Evap + Frag)", "dx": 23, "dy": 47},
"layer": [
{"mark": {"type": "point"},
"encoding": {
"x": {"field": "Z", "type": "quantitative", "scale": {"domain": [-0.3, 95.7], "nice": false, "zero": false}, "axis": {"title": null, "values": [0,5,10,15,20,25,30,35,40,45,50,55,60,65,70,75,80,85,90,95], "format": "d", "labelExpr": "datum.value % 10 == 0 ? datum.label : ''", "tickSize": {"condition": {"test": "datum.value % 10 == 0", "value": 6}, "value": 3}, "labelPadding": 4}},
"y": {"field": "CCS", "type": "quantitative", "scale": {"type": "log", "domain": [0.001, 10000], "nice": false}, "axis": {"title": null, "values": [0.001,0.002,0.003,0.004,0.005,0.006,0.007,0.008,0.009,0.01,0.02,0.03,0.04,0.05,0.06,0.07,0.08,0.09,0.1,0.2,0.3,0.4,0.5,0.6,0.7,0.8,0.9,1,2,3,4,5,6,7,8,9,10,20,30,40,50,60,70,80,90,100,200,300,400,500,600,700,800,900,1000,2000,3000,4000,5000,6000,7000,8000,9000,10000], "labelExpr": "abs(log(datum.value)/LN10 - round(log(datum.value)/LN10)) < 0.01 ? '10' + ['⁻³','⁻²','⁻¹','⁰','¹','²','³','⁴','⁵','⁶'][round(log(datum.value)/LN10) + 3] : ''", "tickSize": {"condition": {"test": "abs(log(datum.value)/LN10 - round(log(datum.value)/LN10)) < 0.01", "value": 6}, "value": 3}, "labelPadding": 2}},
"color": {"field": "E", "type": "nominal", "scale": {"domain": ["0.6 GeV","1.0 GeV","1.4 GeV","2.0 GeV"], "range": ["#00FFFF","#00FF00","#FFFF00","#800080"]}, "legend": {"title": null, "orient": "none", "legendX": 325, "legendY": 14, "rowPadding": 4}},
"shape": {"field": "E", "type": "nominal", "scale": {"domain": ["0.6 GeV","1.0 GeV","1.4 GeV","2.0 GeV"], "range": ["square","diamond","triangle-down","triangle-up"]}, "legend": {"title": null, "orient": "none", "legendX": 325, "legendY": 14, "rowPadding": 4}}
}},
{"mark": {"type": "point", "opacity": 0},
"encoding": {
"x": {"field": "Z", "type": "quantitative", "scale": {"domain": [-0.3, 95.7], "nice": false, "zero": false}, "axis": {"orient": "top", "title": null, "labels": false, "domain": false, "values": [0,5,10,15,20,25,30,35,40,45,50,55,60,65,70,75,80,85,90,95], "tickSize": {"condition": {"test": "datum.value % 10 == 0", "value": -5}, "value": -3}}},
"y": {"field": "CCS", "type": "quantitative", "scale": {"type": "log", "domain": [0.001, 10000], "nice": false}, "axis": {"orient": "right", "title": null, "labels": false, "domain": false, "values": [0.001,0.002,0.003,0.004,0.005,0.006,0.007,0.008,0.009,0.01,0.02,0.03,0.04,0.05,0.06,0.07,0.08,0.09,0.1,0.2,0.3,0.4,0.5,0.6,0.7,0.8,0.9,1,2,3,4,5,6,7,8,9,10,20,30,40,50,60,70,80,90,100,200,300,400,500,600,700,800,900,1000,2000,3000,4000,5000,6000,7000,8000,9000,10000], "tickSize": {"condition": {"test": "abs(log(datum.value)/LN10 - round(log(datum.value)/LN10)) < 0.01", "value": -5}, "value": -3}}}
}}
],
"resolve": {"axis": {"x": "independent", "y": "independent"}}
},
{
"width": 457, "height": 331,
"data": {"name": "fiss"},
"title": {"text": "Fission fragments", "dx": 26.5, "dy": 45},
"layer": [
{"mark": {"type": "point"},
"encoding": {
"x": {"field": "Z", "type": "quantitative", "scale": {"domain": [-1, 95], "nice": false, "zero": false}, "axis": {"title": "Z", "titleFontSize": 17, "titlePadding": 4, "titleX": 219.5, "values": [0,5,10,15,20,25,30,35,40,45,50,55,60,65,70,75,80,85,90], "format": "d", "labelExpr": "datum.value % 10 == 0 ? datum.label : ''", "tickSize": {"condition": {"test": "datum.value % 10 == 0", "value": 6}, "value": 3}, "labelPadding": 4}},
"y": {"field": "CCS", "type": "quantitative", "scale": {"type": "log", "domain": [0.001, 10000], "nice": false}, "axis": {"title": "CCS [mbarn]", "titleFontSize": 16, "titlePadding": 7, "values": [0.001,0.002,0.003,0.004,0.005,0.006,0.007,0.008,0.009,0.01,0.02,0.03,0.04,0.05,0.06,0.07,0.08,0.09,0.1,0.2,0.3,0.4,0.5,0.6,0.7,0.8,0.9,1,2,3,4,5,6,7,8,9,10,20,30,40,50,60,70,80,90,100,200,300,400,500,600,700,800,900,1000,2000,3000,4000,5000,6000,7000,8000,9000,10000], "labelExpr": "abs(log(datum.value)/LN10 - round(log(datum.value)/LN10)) < 0.01 ? '10' + ['⁻³','⁻²','⁻¹','⁰','¹','²','³','⁴','⁵','⁶'][round(log(datum.value)/LN10) + 3] : ''", "tickSize": {"condition": {"test": "abs(log(datum.value)/LN10 - round(log(datum.value)/LN10)) < 0.01", "value": 6}, "value": 3}, "labelPadding": 2}},
"color": {"field": "E", "type": "nominal", "scale": {"domain": ["0.6 GeV","1.0 GeV","1.4 GeV","2.0 GeV"], "range": ["#00FFFF","#00FF00","#FFFF00","#800080"]}, "legend": {"title": null, "orient": "none", "legendX": 328, "legendY": 6, "rowPadding": 7.5}},
"shape": {"field": "E", "type": "nominal", "scale": {"domain": ["0.6 GeV","1.0 GeV","1.4 GeV","2.0 GeV"], "range": ["square","diamond","triangle-down","triangle-up"]}, "legend": {"title": null, "orient": "none", "legendX": 328, "legendY": 6, "rowPadding": 7.5}}
}},
{"mark": {"type": "point", "opacity": 0},
"encoding": {
"x": {"field": "Z", "type": "quantitative", "scale": {"domain": [-1, 95], "nice": false, "zero": false}, "axis": {"orient": "top", "title": null, "labels": false, "domain": false, "values": [0,5,10,15,20,25,30,35,40,45,50,55,60,65,70,75,80,85,90], "tickSize": {"condition": {"test": "datum.value % 10 == 0", "value": -5}, "value": -3}}},
"y": {"field": "CCS", "type": "quantitative", "scale": {"type": "log", "domain": [0.001, 10000], "nice": false}, "axis": {"orient": "right", "title": null, "labels": false, "domain": false, "values": [0.001,0.002,0.003,0.004,0.005,0.006,0.007,0.008,0.009,0.01,0.02,0.03,0.04,0.05,0.06,0.07,0.08,0.09,0.1,0.2,0.3,0.4,0.5,0.6,0.7,0.8,0.9,1,2,3,4,5,6,7,8,9,10,20,30,40,50,60,70,80,90,100,200,300,400,500,600,700,800,900,1000,2000,3000,4000,5000,6000,7000,8000,9000,10000], "tickSize": {"condition": {"test": "abs(log(datum.value)/LN10 - round(log(datum.value)/LN10)) < 0.01", "value": -5}, "value": -3}}}
}}
],
"resolve": {"axis": {"x": "independent", "y": "independent"}}
},
{
"width": 458, "height": 331,
"data": {"name": "lp"},
"title": {"text": "LP (Evap + Frag + Fiss)", "dx": 25, "dy": 49},
"layer": [
{"mark": {"type": "point"},
"encoding": {
"x": {"field": "Z", "type": "quantitative", "scale": {"domain": [-0.9, 5], "nice": false, "zero": false}, "axis": {"title": "Z", "titleFontSize": 17, "titlePadding": 4, "titleX": 210.7, "values": [-0.5,0,0.5,1,1.5,2,2.5,3,3.5,4,4.5,5], "labelExpr": "datum.value % 1 == 0 ? format(datum.value, 'd') : ''", "tickSize": {"condition": {"test": "datum.value % 1 == 0", "value": 6}, "value": 3}, "labelPadding": 4}},
"y": {"field": "CCS", "type": "quantitative", "scale": {"type": "log", "domain": [0.001, 1000000], "nice": false}, "axis": {"title": null, "values": [0.001,0.002,0.003,0.004,0.005,0.006,0.007,0.008,0.009,0.01,0.02,0.03,0.04,0.05,0.06,0.07,0.08,0.09,0.1,0.2,0.3,0.4,0.5,0.6,0.7,0.8,0.9,1,2,3,4,5,6,7,8,9,10,20,30,40,50,60,70,80,90,100,200,300,400,500,600,700,800,900,1000,2000,3000,4000,5000,6000,7000,8000,9000,10000,20000,30000,40000,50000,60000,70000,80000,90000,100000,200000,300000,400000,500000,600000,700000,800000,900000,1000000], "labelExpr": "abs(log(datum.value)/LN10 - round(log(datum.value)/LN10)) < 0.01 ? '10' + ['⁻³','⁻²','⁻¹','⁰','¹','²','³','⁴','⁵','⁶'][round(log(datum.value)/LN10) + 3] : ''", "tickSize": {"condition": {"test": "abs(log(datum.value)/LN10 - round(log(datum.value)/LN10)) < 0.01", "value": 6}, "value": 3}, "labelPadding": 2}},
"color": {"field": "E", "type": "nominal", "scale": {"domain": ["0.6 GeV","1.0 GeV","1.4 GeV","2.0 GeV"], "range": ["#00FFFF","#00FF00","#FFFF00","#800080"]}, "legend": {"title": null, "orient": "none", "legendX": 314, "legendY": 13, "rowPadding": 6}},
"shape": {"field": "E", "type": "nominal", "scale": {"domain": ["0.6 GeV","1.0 GeV","1.4 GeV","2.0 GeV"], "range": ["square","diamond","triangle-down","triangle-up"]}, "legend": {"title": null, "orient": "none", "legendX": 314, "legendY": 13, "rowPadding": 6}}
}},
{"mark": {"type": "point", "opacity": 0},
"encoding": {
"x": {"field": "Z", "type": "quantitative", "scale": {"domain": [-0.9, 5], "nice": false, "zero": false}, "axis": {"orient": "top", "title": null, "labels": false, "domain": false, "values": [-0.5,0,0.5,1,1.5,2,2.5,3,3.5,4,4.5,5], "tickSize": {"condition": {"test": "datum.value % 1 == 0", "value": -5}, "value": -3}}},
"y": {"field": "CCS", "type": "quantitative", "scale": {"type": "log", "domain": [0.001, 1000000], "nice": false}, "axis": {"orient": "right", "title": null, "labels": false, "domain": false, "values": [0.001,0.002,0.003,0.004,0.005,0.006,0.007,0.008,0.009,0.01,0.02,0.03,0.04,0.05,0.06,0.07,0.08,0.09,0.1,0.2,0.3,0.4,0.5,0.6,0.7,0.8,0.9,1,2,3,4,5,6,7,8,9,10,20,30,40,50,60,70,80,90,100,200,300,400,500,600,700,800,900,1000,2000,3000,4000,5000,6000,7000,8000,9000,10000,20000,30000,40000,50000,60000,70000,80000,90000,100000,200000,300000,400000,500000,600000,700000,800000,900000,1000000], "tickSize": {"condition": {"test": "abs(log(datum.value)/LN10 - round(log(datum.value)/LN10)) < 0.01", "value": -5}, "value": -3}}}
}}
],
"resolve": {"axis": {"x": "independent", "y": "independent"}}
}
]
}
